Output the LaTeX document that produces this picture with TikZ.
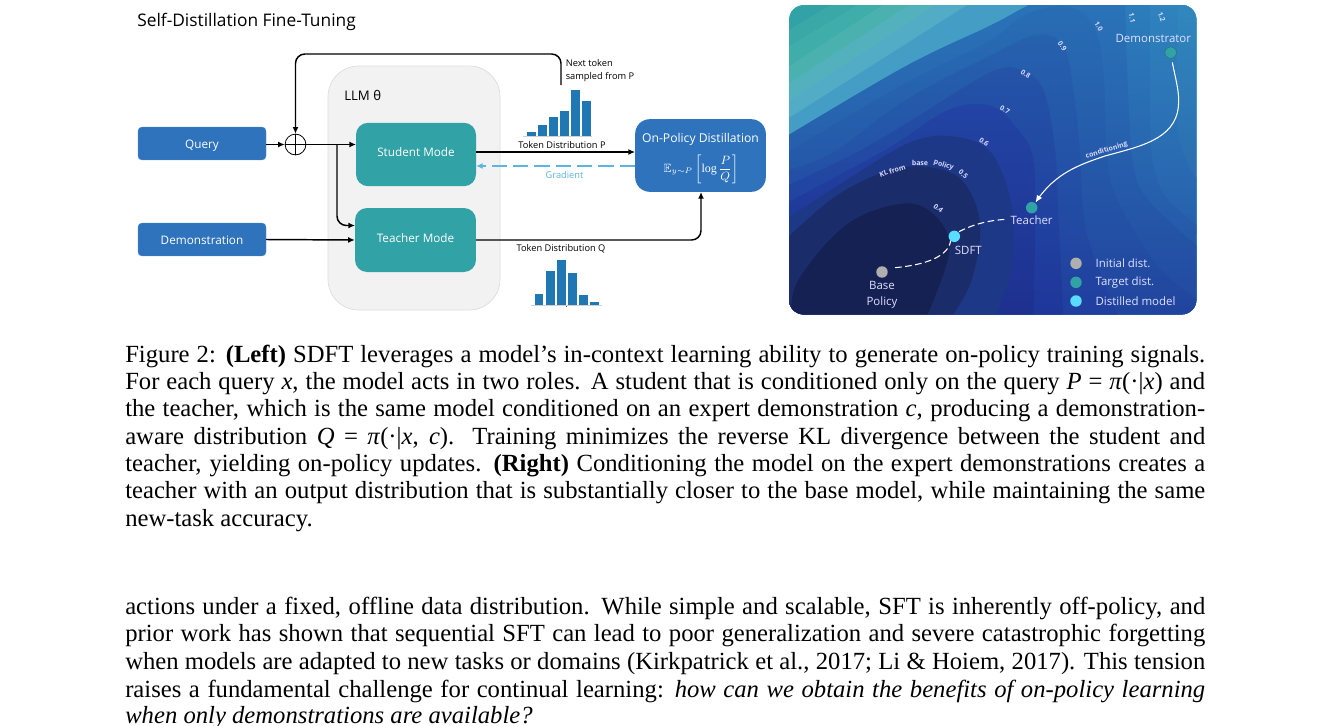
\documentclass[tikz,border=0pt]{standalone}
\usepackage{amsmath,amssymb}
\usepackage{fontspec}
\setmainfont{Liberation Serif}
\newfontfamily\dfont{Open Sans}
\usetikzlibrary{arrows.meta,calc}
\definecolor{qblue}{HTML}{2E73BC}
\definecolor{teal1}{HTML}{31A2A5}
\definecolor{barblue}{HTML}{1F77B4}
\definecolor{gradc}{HTML}{5BB5DC}
\definecolor{llmg}{HTML}{F2F2F2}
\definecolor{llme}{HTML}{DCDCDC}
\definecolor{dgrey}{HTML}{AFAFAF}
\definecolor{dcyan}{HTML}{5ADCFF}
\tikzset{
 x=0.75pt,y=-0.75pt,
 inbox/.style={draw=qblue!80!white,line width=.3pt,fill=qblue,rounded corners=3pt},
 modebox/.style={fill=teal1,rounded corners=9pt,text=white},
 modetext/.style={text=white,font=\dfont\fontsize{8.8}{10}\selectfont,inner sep=0pt},
 conn/.style={draw=black,line width=1.1pt,-{Latex[length=5pt,width=4.5pt]}},
 smalll/.style={text=black,font=\dfont\fontsize{6.95}{9.3}\selectfont,inner sep=0pt},
 captext/.style={anchor=base west,inner sep=0pt,font=\fontsize{18.5}{20}\selectfont},
 dotn/.style={circle,minimum size=8.6pt,inner sep=0pt},
 land/.style={text=white!88!blue,font=\dfont\fontsize{8.6}{12}\selectfont,inner sep=0pt,align=center},
 cl/.style={text=white!85!blue,font=\dfont\bfseries\fontsize{5.2}{6}\selectfont,inner sep=0pt},
 wc/.style={draw=white,line width=.8pt},
 sm/.style={smooth,tension=.6},
}
\newcommand{\jl}[1]{\makebox[810pt][s]{#1}}
\begin{document}
\begin{tikzpicture}
\useasboundingbox (0,0) rectangle (1338,725);
% ---------- left diagram
\node[anchor=base west,inner sep=0pt,font=\dfont\fontsize{13}{15}\selectfont] (title) at (137,26) {Self-Distillation Fine-Tuning};
\draw[fill=llmg,draw=llme,line width=.5pt,rounded corners=23pt] (328,66) rectangle (500,310);
\node[anchor=base west,inner sep=0pt,font=\dfont\fontsize{9.9}{11}\selectfont] (llm) at (344,100) {LLM θ};
\node[inbox,minimum width=96pt,minimum height=24.7pt] (query) at (202,143.5) {};
\node[modetext,anchor=base] (queryt) at (202,148) {Query};
\node[inbox,minimum width=96pt,minimum height=24.7pt] (demo) at (202,239.5) {};
\node[modetext,anchor=base] (demot) at (202,244) {Demonstration};
\node[modebox,minimum width=90pt,minimum height=47.5pt] (student) at (416,154.5) {};
\node[modetext] (studentt) at (416,152) {Student Mode};
\node[modebox,minimum width=90.7pt,minimum height=48pt] (teacher) at (415.5,240) {};
\node[modetext] (teachert) at (415.5,238) {Teacher Mode};
\node[fill=qblue,rounded corners=11pt,minimum width=98pt,minimum height=54.5pt] (opd) at (700.5,155.5) {};
\node[text=white,font=\dfont\fontsize{9.1}{10}\selectfont,inner sep=0pt] (opdt) at (700.5,139) {On-Policy Distillation};
\node[text=white,inner sep=0pt,font=\fontsize{9}{10}\selectfont] (opdf) at (701,169) {$\mathbb{E}_{y\sim P}\left[\log\dfrac{P}{Q}\right]$};
\node[circle,draw=black,line width=.6pt,fill=white,minimum size=15.6pt,inner sep=0pt] (plus) at (295.5,144.5) {};
\draw[line width=.6pt] (plus.north) -- (plus.south) (plus.west) -- (plus.east);
\coordinate (sIn) at (356,144.5);
\coordinate (tIn) at (355,225.5);
\coordinate (branch) at (337,144.5);
\coordinate (sOut) at (476,152);
\coordinate (opIn) at (635,152);
\coordinate (opOut) at (635,166);
\coordinate (sGrad) at (476,166);
\coordinate (tOut) at (476,240);
\coordinate (opBot) at (701,192);
\coordinate (fb) at (561,85);
\draw[conn] (query.east |- plus.west) -- (plus.west);
\draw[conn] (plus.east) -- (sIn);
\draw[conn,rounded corners=7pt] (branch) -- (branch |- tIn) -- (tIn);
\draw[conn] (demo.east) -- (teacher.west);
\draw[conn] (sOut) -- (opIn);
\draw[draw=gradc,line width=1.1pt,dash pattern=on 11.5pt off 4.5pt,-{Latex[length=5pt,width=4.5pt]}] (opOut) -- (sGrad);
\draw[conn,rounded corners=7pt] (tOut) -- (tOut -| opBot) -- (opBot);
\draw[conn,rounded corners=7pt] (fb) -- (fb |- 0,54) -- (plus.north |- 0,54) -- (plus.north);
\node[smalll,anchor=base west,align=left] (next) at (565.5,79) {Next token\\sampled from P};
\node[smalll,anchor=base] (tdp) at (562,148) {Token Distribution P};
\node[smalll,anchor=base] (tdq) at (561,251) {Token Distribution Q};
\node[smalll,anchor=base,text=gradc] (grad) at (564.5,178) {Gradient};
% bars P
\foreach \a/\b/\t in {200/227/277,233/260/256,266/293/232,299/326/212,332/359/150,366/392/184}
  \fill[barblue] ({460+\a/3},{40+\t/3}) rectangle ({460+\b/3},{40+287/3});
\draw[line width=.5pt,draw=black!18] ({460+190/3},{40+288/3}) -- ({460+395/3},{40+288/3});
% bars Q
\foreach \a/\b/\t in {224/250/762,257/284/693,290/317/659,324/350/700,357/384/766,390/416/786}
  \fill[barblue] ({460+\a/3},{40+\t/3}) rectangle ({460+\b/3},{40+796/3});
\draw[line width=.5pt,draw=black!18] ({460+214/3},{40+797/3}) -- ({460+426/3},{40+797/3});
\draw[line width=.5pt,draw=black!70] (566,305.5) -- (566,307);
% ---------- landscape
\begin{scope}[shift={(785,0)},x=0.25pt,y=-0.25pt]
\begin{scope}
\clip[rounded corners=11pt] (12,15) rectangle (1234,943);
\fill[fill=teal1] (12,15) rectangle (1234,943);
% stripes, upper left
\foreach \yy/\xx/\cc in {
 89/147/39A8A6,
 139/227/3FADA9,
 199/302/4AB1AE,
 249/382/52B1BC,
 304/462/52ACC6,
 354/557/439DC4}{
  \definecolor{tmpc}{HTML}{\cc}
  \fill[tmpc] (12,\yy) -- (\xx,9) -- (1240,9) -- (1240,950) -- (12,950) -- cycle;
 }
% levels
\shade[top color={rgb,255:red,48;green,136;blue,190},bottom color={rgb,255:red,42;green,100;blue,172}]
  (1100,0) rectangle (1240,700);
\shade[top color={rgb,255:red,47;green,132;blue,190},bottom color={rgb,255:red,36;green,82;blue,166}]
  plot[sm] coordinates {(0,412) (362,199) (612,79) (700,32) (760,0)}
  -- plot[sm] coordinates {(1180,0) (1180,400) (1240,540)} -- (1240,950) -- (0,950) -- cycle;
\shade[top color={rgb,255:red,44;green,126;blue,188},bottom color={rgb,255:red,35;green,77;blue,163}]
  plot[sm] coordinates {(0,412) (362,199) (612,79) (700,32) (760,0)}
  -- plot[sm] coordinates {(1095,0) (1095,350) (1105,495) (1145,595) (1240,678)} -- (1240,950) -- (0,950) -- cycle;
\shade[top color={rgb,255:red,42;green,116;blue,184},bottom color={rgb,255:red,34;green,72;blue,160}]
  plot[sm] coordinates {(0,412) (362,199) (612,79) (700,32) (760,0)}
  -- plot[sm] coordinates {(1020,0) (1030,300) (1045,495) (1085,595) (1240,742)} -- (1240,950) -- (0,950) -- cycle;
\shade[top color={rgb,255:red,40;green,110;blue,180},bottom color={rgb,255:red,33;green,68;blue,158}]
  plot[sm] coordinates {(0,462) (362,249) (612,124) (720,45) (845,19) (925,79) (955,210) (965,460) (995,595) (1115,795) (1240,900)} -- (1240,950) -- (0,950) -- cycle;
\shade[top color={rgb,255:red,38;green,98;blue,174},bottom color={rgb,255:red,32;green,62;blue,158}]
  plot[sm] coordinates {(0,512) (142,459) (362,300) (612,169) (755,104) (835,139) (865,269) (885,459) (905,700) (1000,950)} -- (0,950) -- cycle;
\shade[top color={rgb,255:red,36;green,84;blue,168},bottom color={rgb,255:red,30;green,54;blue,154}]
  plot[sm] coordinates {(0,560) (212,459) (382,359) (612,219) (705,209) (775,270) (810,450) (820,650) (835,950)} -- (0,950) -- cycle;
\shade[top color={rgb,255:red,34;green,68;blue,164},bottom color={rgb,255:red,30;green,48;blue,144}]
  plot[sm] coordinates {(0,612) (302,449) (492,329) (620,318) (700,390) (745,480) (750,700) (745,950)} -- (0,950) -- cycle;
\fill[fill={rgb,255:red,30;green,56;blue,136}]
  plot[sm] coordinates {(0,660) (200,530) (380,425) (510,410) (620,460) (680,620) (680,800) (630,950)} -- (0,950) -- cycle;
\fill[fill={rgb,255:red,26;green,44;blue,106}]
  plot[sm] coordinates {(0,720) (150,590) (300,515) (420,500) (530,540) (585,670) (560,840) (500,950)} -- (0,950) -- cycle;
\fill[fill={rgb,255:red,21;green,33;blue,82}]
  plot[sm] coordinates {(20,950) (40,840) (190,670) (370,610) (470,670) (490,770) (425,950)} -- cycle;
\end{scope}
\node[cl,rotate=-70] (c12) at (1130,51) {1.2};
\node[cl,rotate=-80] (c11) at (1041,53) {1.1};
\node[cl,rotate=-60] (c10) at (941,79) {1.0};
\node[cl,rotate=-55] (c9) at (832,139) {0.9};
\node[cl,rotate=-35] (c8) at (722,222) {0.8};
\node[cl,rotate=-30] (c7) at (660,330) {0.7};
\node[cl,rotate=-35] (c6) at (597,426) {0.6};
\node[cl,rotate=-45] (c5) at (535,522) {0.5};
\node[cl,rotate=-40] (c4) at (460,625) {0.4};
\node[cl,rotate=18] (kl1) at (322,512) {KL from};
\node[cl,rotate=-2] (kl2) at (405,489) {base};
\node[cl,rotate=-18] (kl3) at (476,496) {policy};
\node[cl,rotate=17] (condt) at (965,451) {conditioning};
\node[land] (tdem) at (1105,114) {Demonstrator};
\node[dotn,fill=teal1,draw=teal1!70!black,line width=.3pt] (ddem) at (1157,158) {};
\node[dotn,fill=teal1] (dtea) at (740,623) {};
\node[land] (ttea) at (740,660) {Teacher};
\node[dotn,fill=dcyan] (dsd) at (508,709) {};
\node[land] (tsd) at (550,750) {SDFT};
\node[dotn,fill=dgrey] (dbase) at (291,816) {};
\node[land] (tbase) at (291,883) {Base\\Policy};
\coordinate (cm1) at (1180,320);
\coordinate (cm2) at (960,468);
\coordinate (tip) at (753,605);
\coordinate (dm1) at (330,803);
\coordinate (dm2) at (497,722);
\coordinate (dm3) at (522,695);
\coordinate (dm4) at (665,658);
\draw[wc] (1162,187) .. controls (1172,240) and (1185,280) .. (cm1) .. controls (1170,420) and (1060,440) .. (cm2) .. controls (880,495) and (810,520) .. (tip);
\fill[white] (tip) -- +(3,-20) -- +(18,-11) -- cycle;
\draw[wc,dash pattern=on 5pt off 2.6pt] (dm1) .. controls (420,795) and (490,770) .. (dm2);
\draw[wc,dash pattern=on 5pt off 2.6pt] (dm3) .. controls (570,670) and (620,660) .. (dm4);
\node[dotn,fill=dgrey] (lg1) at (873,790) {};
\node[dotn,fill=teal1] (lg2) at (873,847) {};
\node[dotn,fill=dcyan] (lg3) at (873,903) {};
\node[land,anchor=west] (lt1) at (931,790) {Initial dist.};
\node[land,anchor=west] (lt2) at (931,847) {Target dist.};
\node[land,anchor=west] (lt3) at (931,903) {Distilled model};
\end{scope}
% ---------- caption
\node[captext] (l1) at (125,362) {\jl{Figure 2: \textbf{(Left)} SDFT leverages a model’s in-context learning ability to generate on-policy training signals.}};
\node[captext] (l2) at (125,389) {\jl{For each query \textit{x}, the model acts in two roles. A student that is conditioned only on the query \textit{P} = \textit{π}(·|\textit{x}) and}};
\node[captext] (l3) at (125,416) {\jl{the teacher, which is the same model conditioned on an expert demonstration \textit{c}, producing a demonstration-}};
\node[captext] (l4) at (125,444) {\jl{aware distribution \textit{Q} = \textit{π}(·|\textit{x}, \textit{c}). Training minimizes the reverse KL divergence between the student and}};
\node[captext] (l5) at (125,471) {\jl{teacher, yielding on-policy updates. \textbf{(Right)} Conditioning the model on the expert demonstrations creates a}};
\node[captext] (l6) at (125,498) {\jl{teacher with an output distribution that is substantially closer to the base model, while maintaining the same}};
\node[captext] (l7) at (125,526) {new-task accuracy.};
\node[captext] (b1) at (125,614) {\jl{actions under a fixed, offline data distribution. While simple and scalable, SFT is inherently off-policy, and}};
\node[captext] (b2) at (125,641) {\jl{prior work has shown that sequential SFT can lead to poor generalization and severe catastrophic forgetting}};
\node[captext] (b3) at (125,669) {\jl{when models are adapted to new tasks or domains (Kirkpatrick et al., 2017; Li \& Hoiem, 2017). This tension}};
\node[captext] (b4) at (125,697) {\jl{raises a fundamental challenge for continual learning: \textit{how can we obtain the benefits of on-policy learning}}};
\node[captext] (b5) at (125,723) {\textit{when only demonstrations are available?}};
\end{tikzpicture}
\end{document}
